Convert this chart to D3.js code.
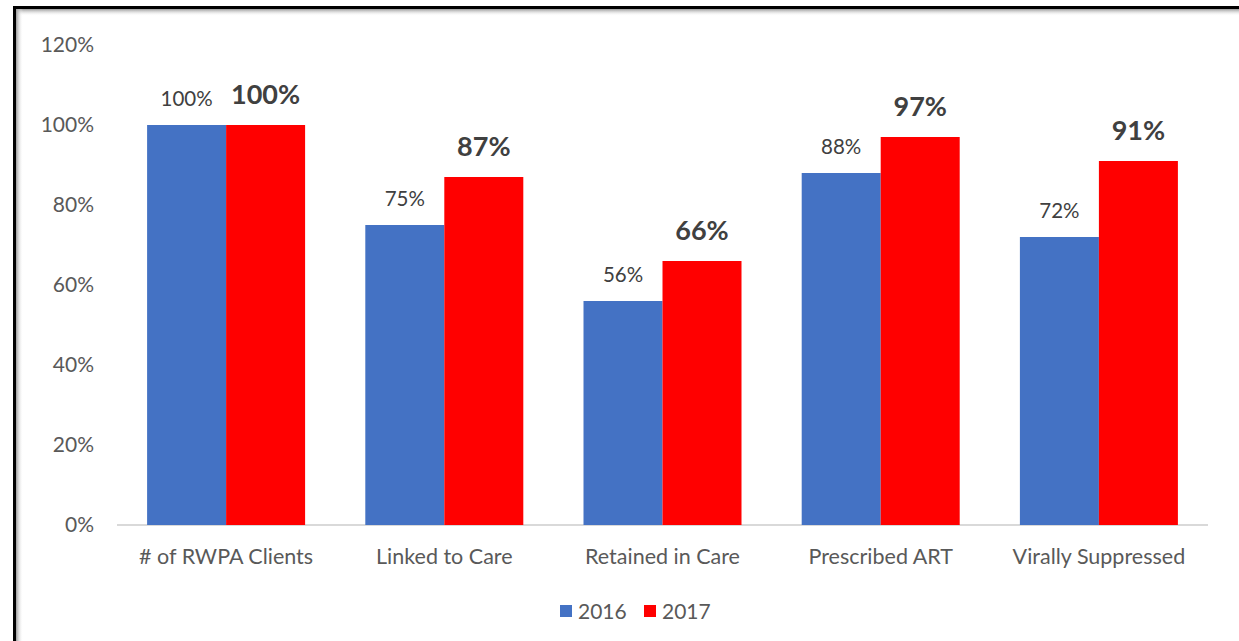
<!DOCTYPE html>
<html>
<head>
<meta charset="utf-8">
<script src="https://cdn.jsdelivr.net/npm/d3@7"></script>
<style>
  html, body { margin: 0; padding: 0; background: #fff; }
  svg { display: block; }
  text { font-family: Lato, "Open Sans", sans-serif; }
</style>
</head>
<body>
<svg id="chart" width="1239" height="641"></svg>
<script>
// Chart data
const categories = ["# of RWPA Clients", "Linked to Care", "Retained in Care", "Prescribed ART", "Virally Suppressed"];
const seriesNames = ["2016", "2017"];
const values2016 = [100, 75, 56, 88, 72];
const values2017 = [100, 87, 66, 97, 91];
const yTicks = [0, 20, 40, 60, 80, 100, 120];
const colors = ["#4472C4", "#FF0000"];

const svg = d3.select("#chart");
const W = 1239, H = 641;

// Frame: heavy black top/left edges with a soft inner shadow
const defs = svg.append("defs");
const gTop = defs.append("linearGradient").attr("id", "shTop").attr("x1", 0).attr("y1", 0).attr("x2", 0).attr("y2", 1);
gTop.append("stop").attr("offset", 0).attr("stop-color", "#9a9a9a");
gTop.append("stop").attr("offset", 1).attr("stop-color", "#ffffff").attr("stop-opacity", 0);
const gLeft = defs.append("linearGradient").attr("id", "shLeft").attr("x1", 0).attr("y1", 0).attr("x2", 1).attr("y2", 0);
gLeft.append("stop").attr("offset", 0).attr("stop-color", "#9a9a9a");
gLeft.append("stop").attr("offset", 1).attr("stop-color", "#ffffff").attr("stop-opacity", 0);

svg.append("rect").attr("x", 16).attr("y", 9).attr("width", W - 16).attr("height", 7).attr("fill", "url(#shTop)");
svg.append("rect").attr("x", 16).attr("y", 9).attr("width", 7).attr("height", H - 9).attr("fill", "url(#shLeft)");
svg.append("rect").attr("x", 13).attr("y", 6).attr("width", W - 13).attr("height", 3).attr("fill", "#000");
svg.append("rect").attr("x", 13).attr("y", 6).attr("width", 3).attr("height", H - 6).attr("fill", "#000");

// Scales
const plot = { left: 117, right: 1208, top: 45, bottom: 525 };
const x0 = d3.scaleBand().domain(categories).range([plot.left, plot.right]).paddingInner(0).paddingOuter(0);
const groupW = 158;
const x1 = d3.scaleBand().domain(seriesNames).range([0, groupW]).padding(0);
const y = d3.scaleLinear().domain([0, 120]).range([plot.bottom, plot.top]);

// Y axis labels
const yAxis = d3.axisLeft(y).tickValues(yTicks).tickFormat(d => d + "%").tickSize(0).tickPadding(0);
const yg = svg.append("g").attr("transform", `translate(94,0)`).call(yAxis);
yg.select(".domain").remove();
yg.selectAll("text").attr("fill", "#595959").style("font-size", "21px").style("font-family", "Lato, sans-serif");

// Baseline
svg.append("line")
  .attr("x1", plot.left).attr("x2", plot.right)
  .attr("y1", y(0)).attr("y2", y(0))
  .attr("stroke", "#d9d9d9").attr("stroke-width", 2);

// Bars
const rows = categories.map((c, i) => ({ cat: c, vals: [values2016[i], values2017[i]] }));
const groups = svg.append("g").selectAll("g").data(rows).join("g")
  .attr("transform", d => `translate(${x0(d.cat) + (x0.bandwidth() - groupW) / 2},0)`);

groups.selectAll("rect").data(d => d.vals.map((v, j) => ({ v, j }))).join("rect")
  .attr("x", d => x1(seriesNames[d.j]))
  .attr("y", d => y(d.v))
  .attr("width", x1.bandwidth())
  .attr("height", d => y(0) - y(d.v))
  .attr("fill", d => colors[d.j]);

// Value labels: 2016 regular, 2017 bold and larger
groups.selectAll("text.val").data(d => d.vals.map((v, j) => ({ v, j }))).join("text")
  .attr("class", "val")
  .attr("x", d => x1(seriesNames[d.j]) + x1.bandwidth() / 2)
  .attr("y", d => y(d.v) - (d.j === 0 ? 19 : 21))
  .attr("text-anchor", "middle")
  .attr("fill", "#404040")
  .style("font-size", d => d.j === 0 ? "20.5px" : "27px")
  .style("font-weight", d => d.j === 0 ? "normal" : "bold")
  .text(d => d.v + "%");

// Category labels
const xAxis = d3.axisBottom(x0).tickSize(0).tickPadding(0);
const xg = svg.append("g").attr("transform", `translate(0,${y(0)})`).call(xAxis);
xg.select(".domain").remove();
xg.selectAll("text").attr("fill", "#595959").attr("dy", "0").attr("y", 39)
  .style("font-size", "21.5px").style("font-family", "Lato, sans-serif");

// Legend
const legend = svg.append("g");
const legendItems = [{ name: seriesNames[0], x: 560 }, { name: seriesNames[1], x: 644 }];
legendItems.forEach((it, i) => {
  legend.append("rect").attr("x", it.x).attr("y", 605).attr("width", 12).attr("height", 12).attr("fill", colors[i]);
  legend.append("text").attr("x", it.x + 18).attr("y", 619).attr("fill", "#595959")
    .style("font-size", "21px").text(it.name);
});
</script>
</body>
</html>
